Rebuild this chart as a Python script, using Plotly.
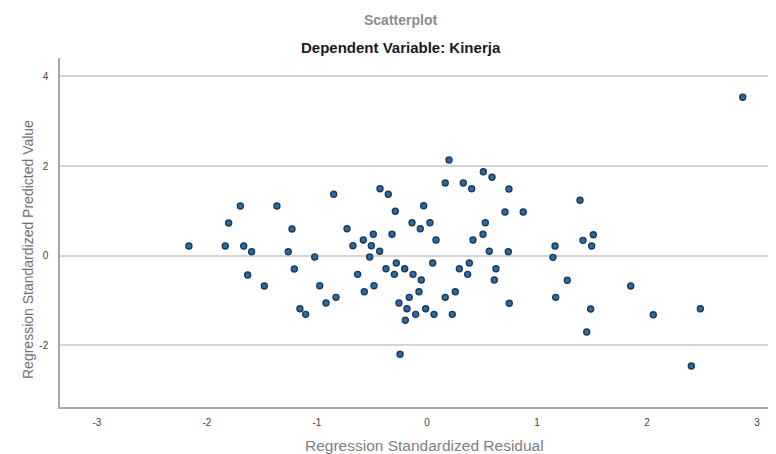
import plotly.graph_objects as go

# Regression Standardized Residual (x) and Regression Standardized Predicted Value (y)
residual = [
    -2.164, -1.834, -1.666, -1.594, -1.803, -1.697, -1.364, -1.227, -1.261, -1.206, -1.630, -1.479,
    0.200, 0.166, 0.330, 0.406, 0.512, 0.591, -0.848, -0.427, -0.352, -0.288, -0.030, -0.136,
    -0.061, 0.027, 0.530, 0.509, 0.418, 0.082, 0.566, -0.727, -0.579, -0.488, -0.673, -0.506,
    -0.430, -0.521, -0.318, -1.021, -0.373, -0.279, -0.203, -0.297, -0.127, -0.052, 0.052, 0.294,
    0.385, 0.370, 0.627, 0.612, -0.630, -0.975, -0.482, -0.570, -0.827, -0.918, -0.073, -0.161,
    0.166, 0.257, -0.255, -0.182, -0.012, -0.103, 0.064, 0.230, -0.197, -1.103, -1.155, -0.245,
    0.745, 1.391, 0.709, 0.875, 0.739, 1.164, 1.145, 1.418, 1.512, 1.497, 0.748, 1.275,
    1.170, 1.852, 1.488, 2.057, 1.452, 2.870, 2.485, 2.403,
]
predicted = [
    0.216, 0.216, 0.216, 0.089, 0.729, 1.108, 1.108, 0.595, 0.089, -0.297, -0.430, -0.676,
    2.134, 1.621, 1.621, 1.494, 1.873, 1.748, 1.369, 1.494, 1.369, 0.990, 1.115, 0.736,
    0.602, 0.736, 0.736, 0.477, 0.350, 0.350, 0.098, 0.602, 0.350, 0.477, 0.223, 0.223,
    0.098, -0.029, 0.477, -0.029, -0.290, -0.163, -0.290, -0.415, -0.415, -0.542, -0.163, -0.290,
    -0.163, -0.415, -0.290, -0.542, -0.415, -0.669, -0.669, -0.803, -0.928, -1.055, -0.803, -0.928,
    -0.928, -0.803, -1.055, -1.182, -1.182, -1.307, -1.307, -1.307, -1.440, -1.307, -1.182, -2.198,
    1.487, 1.235, 0.974, 0.974, 0.089, 0.216, -0.036, 0.343, 0.468, 0.216, -1.061, -0.548,
    -0.928, -0.676, -1.188, -1.316, -1.701, 3.532, -1.182, -2.459,
]
x_ticks = [-3, -2, -1, 0, 1, 2, 3]
y_ticks = [-2, 0, 2, 4]

title_main = "Scatterplot"
title_sub = "Dependent Variable: Kinerja"
x_title = "Regression Standardized Residual"
y_title = "Regression Standardized Predicted Value"

fig = go.Figure()
fig.add_trace(go.Scatter(
    x=residual, y=predicted, mode="markers",
    marker=dict(size=6, color="#2b6ca3", line=dict(color="#1d3a58", width=1.4)),
    showlegend=False, hoverinfo="x+y",
))

font_family = "Liberation Sans, Arial, sans-serif"
fig.update_layout(
    width=768, height=446,
    margin=dict(l=52, r=6, t=50, b=47),
    paper_bgcolor="white", plot_bgcolor="white",
    font=dict(family=font_family, size=10, color="#333333"),
    xaxis=dict(
        range=[-3.336, 3.118], tickvals=x_ticks, ticktext=[str(v) for v in x_ticks],
        showgrid=False, zeroline=False, showline=True, linecolor="#a8a8a8", linewidth=1.5,
        ticks="outside", ticklen=5, tickcolor="rgba(0,0,0,0)",
        tickfont=dict(size=10, color="#444444"),
    ),
    yaxis=dict(
        range=[-3.373, 4.408], tickvals=y_ticks, ticktext=[str(v) for v in y_ticks],
        showgrid=True, gridcolor="#d4d4d4", gridwidth=1.6,
        zeroline=False, showline=True, linecolor="#a8a8a8", linewidth=1.5,
        ticks="outside", ticklen=8, tickcolor="rgba(0,0,0,0)",
        tickfont=dict(size=10, color="#444444"),
    ),
    annotations=[
        dict(text="<b>" + title_main + "</b>", xref="paper", yref="paper", x=0.479, y=1.109,
             xanchor="center", yanchor="middle", showarrow=False,
             font=dict(size=14, color="#8c8c8c", family=font_family)),
        dict(text="<b>" + title_sub + "</b>", xref="paper", yref="paper", x=0.480, y=1.030,
             xanchor="center", yanchor="middle", showarrow=False,
             font=dict(size=15, color="#1a1a1a", family=font_family)),
        dict(text=x_title, xref="paper", yref="paper", x=0.514, y=-0.109,
             xanchor="center", yanchor="middle", showarrow=False,
             font=dict(size=15.5, color="#808080", family=font_family)),
        dict(text=y_title, xref="paper", yref="paper", x=-0.045, y=0.450,
             xanchor="center", yanchor="middle", showarrow=False, textangle=-90,
             font=dict(size=14, color="#707070", family=font_family)),
    ],
)

fig.write_html("out.html")
